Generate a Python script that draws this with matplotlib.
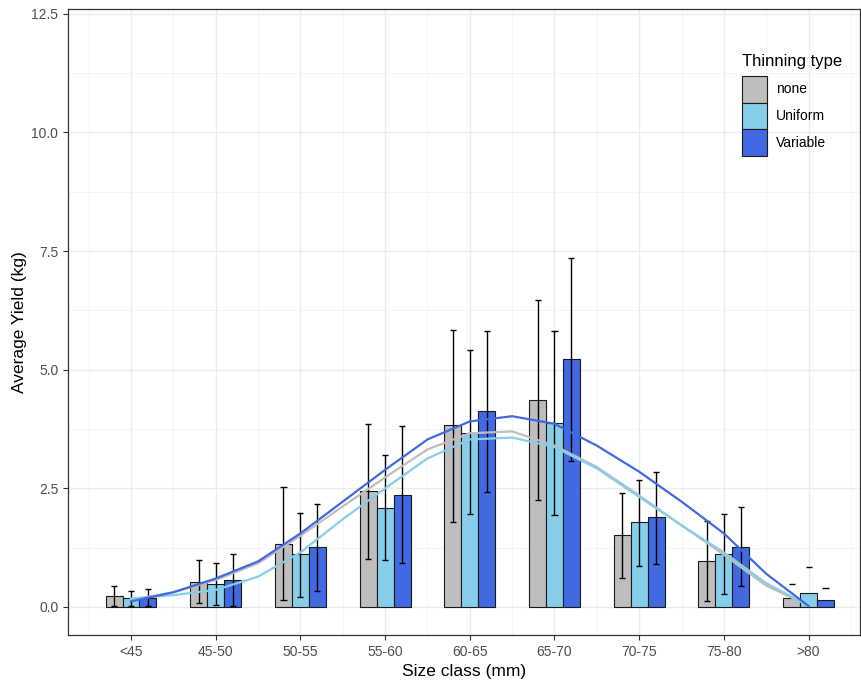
import numpy as np
import matplotlib
matplotlib.use("Agg")
from matplotlib import pyplot as plt
from matplotlib.patches import Patch

plt.rcParams['font.family'] = ['Liberation Sans', 'DejaVu Sans']

# DATA
size_classes = ["<45", "45-50", "50-55", "55-60", "60-65", "65-70", "70-75", "75-80", ">80"]
groups = ["none", "Uniform", "Variable"]
colors = {"none": "#BEBEBE", "Uniform": "#87CEEB", "Variable": "#4169E1"}

mean_none = [0.23, 0.53, 1.33, 2.44, 3.84, 4.37, 1.52, 0.97, 0.18]
mean_unif = [0.20, 0.49, 1.12, 2.09, 3.67, 3.87, 1.79, 1.12, 0.30]
mean_var = [0.18, 0.57, 1.27, 2.36, 4.12, 5.22, 1.89, 1.27, 0.15]

hi_none = [0.45, 0.99, 2.53, 3.85, 5.84, 6.46, 2.41, 1.81, 0.48]
hi_unif = [0.34, 0.92, 1.99, 3.20, 5.42, 5.81, 2.68, 1.96, 0.85]
hi_var = [0.37, 1.12, 2.16, 3.82, 5.81, 7.35, 2.85, 2.11, 0.39]

# lower ends; the >80 ones fall below zero and are not drawn
lo_none = [0.02, 0.08, 0.15, 1.02, 1.79, 2.26, 0.62, 0.13, np.nan]
lo_unif = [0.02, 0.05, 0.22, 0.99, 1.96, 1.93, 0.87, 0.27, np.nan]
lo_var = [0.02, 0.02, 0.34, 0.92, 2.43, 3.08, 0.90, 0.45, np.nan]

# smoothed trend read at every half class (1, 1.5, ..., 9)
smooth_x = [1, 1.5, 2, 2.5, 3, 3.5, 4, 4.5, 5, 5.5, 6, 6.5, 7, 7.5, 8, 8.5, 9]
smooth_none = [0.15, 0.31, 0.57, 0.92, 1.50, 2.12, 2.73, 3.32, 3.66, 3.70, 3.40, 2.95, 2.35, 1.72, 1.10, 0.45, 0.03]
smooth_unif = [0.18, 0.25, 0.36, 0.64, 1.15, 1.85, 2.50, 3.13, 3.53, 3.57, 3.37, 2.92, 2.32, 1.72, 1.15, 0.50, 0.03]
smooth_var = [0.12, 0.31, 0.60, 0.96, 1.55, 2.22, 2.89, 3.53, 3.91, 4.02, 3.86, 3.40, 2.85, 2.22, 1.55, 0.70, 0.02]

means = {"none": mean_none, "Uniform": mean_unif, "Variable": mean_var}
his = {"none": hi_none, "Uniform": hi_unif, "Variable": hi_var}
los = {"none": lo_none, "Uniform": lo_unif, "Variable": lo_var}
smooths = {"none": smooth_none, "Uniform": smooth_unif, "Variable": smooth_var}

W, H = 861, 682
fig = plt.figure(figsize=(W / 100, H / 100), dpi=100)
ax = fig.add_axes([68 / W, (H - 635) / H, (860 - 68) / W, (635 - 9) / H])

x = np.arange(1, len(size_classes) + 1)
bw = 0.2
cap = 0.036
for k, g in enumerate(groups):
    xs = x + (k - 1) * bw
    ax.bar(xs, means[g], width=bw, color=colors[g], edgecolor="#1a1a1a", linewidth=0.8, zorder=2)
    lo = np.array(los[g])
    hi = np.array(his[g])
    ok = ~np.isnan(lo)
    ax.vlines(xs[ok], lo[ok], hi[ok], color="black", linewidth=1.0, zorder=3)
    ax.hlines(hi, xs - cap, xs + cap, color="black", linewidth=1.0, zorder=3)
    ax.hlines(lo[ok], xs[ok] - cap, xs[ok] + cap, color="black", linewidth=1.0, zorder=3)

for g in groups:
    ax.plot(smooth_x, smooths[g], color=colors[g], linewidth=1.6, zorder=4,
            solid_joinstyle="round")

ax.set_xlim(0.256, 9.607)
ax.set_ylim(-0.59, 12.6)
ax.set_xticks(x)
ax.set_xticklabels(size_classes)
ax.set_xticks(np.arange(0.5, 10, 1), minor=True)
ax.set_yticks([0, 2.5, 5, 7.5, 10, 12.5])
ax.set_yticklabels(["0.0", "2.5", "5.0", "7.5", "10.0", "12.5"])
ax.set_yticks(np.arange(1.25, 12.5, 2.5), minor=True)
ax.grid(which="major", color="#EBEBEB", linewidth=1.0, zorder=0)
ax.grid(which="minor", color="#F2F2F2", linewidth=0.6, zorder=0)
ax.set_axisbelow(True)
ax.tick_params(which="major", length=3.5, width=0.8, color="#333333", labelcolor="#4D4D4D", labelsize=10, pad=3.5)
ax.tick_params(which="minor", length=0)
for s in ax.spines.values():
    s.set_color("#333333")
    s.set_linewidth(0.9)

ax.set_xlabel("Size class (mm)", fontsize=12.5, labelpad=4)
ax.set_ylabel("Average Yield (kg)", fontsize=12.5, labelpad=3)

handles = [Patch(facecolor=colors[g], edgecolor="#1a1a1a", linewidth=0.8) for g in groups]
leg = ax.legend(handles, groups, title="Thinning type", loc="upper left",
                bbox_to_anchor=(732 / W, 1 - 44 / H), bbox_transform=fig.transFigure,
                frameon=False, fontsize=10, title_fontsize=12, handlelength=1.8, handleheight=2.6,
                labelspacing=0.0, handletextpad=0.65, borderpad=0.2, alignment="left")
leg._legend_box.sep = 5

fig.savefig("out.png", dpi=100)
